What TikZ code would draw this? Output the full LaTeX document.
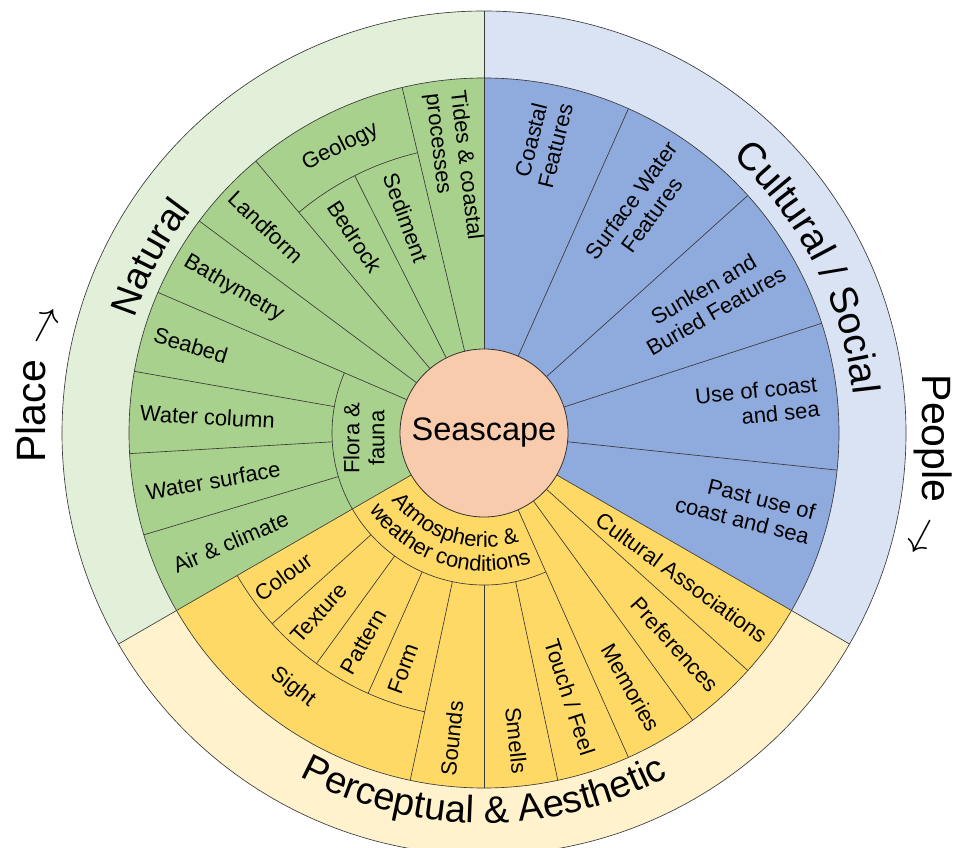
\RequirePackage{fix-cm}
\documentclass[tikz,border=0pt]{standalone}
\usepackage{fontspec}
\setmainfont{Liberation Sans}
\usetikzlibrary{decorations.text}
\definecolor{gD}{HTML}{A9D18E}
\definecolor{gL}{HTML}{E2F0D9}
\definecolor{bD}{HTML}{8FAADC}
\definecolor{bL}{HTML}{DAE3F3}
\definecolor{yD}{HTML}{FFD966}
\definecolor{yL}{HTML}{FFF2CC}
\definecolor{pk}{HTML}{F8CBAD}
\begin{document}
\begin{tikzpicture}[x=1pt,y=1pt,
  sep/.style={draw=black!78, line width=0.65pt},
  lab/.style={font=\fontsize{22}{25}\selectfont, align=center, inner sep=0pt, text=black},
  big/.style={font=\fontsize{41}{45}\selectfont, inner sep=0pt, text=black, anchor=base}]
\useasboundingbox (0,0) rectangle (955,847);
\begin{scope}[shift={(484,414)}]
% outer ring sectors
\fill[gL] (0,0) -- (90:422pt) arc[start angle=90,end angle=210,radius=422pt] -- cycle;
\fill[bL] (0,0) -- (-30:422pt) arc[start angle=-30,end angle=90,radius=422pt] -- cycle;
\fill[yL] (0,0) -- (210:422pt) arc[start angle=210,end angle=330,radius=422pt] -- cycle;
% inner wedges
\fill[gD] (0,0) -- (90:355pt) arc[start angle=90,end angle=210,radius=355pt] -- cycle;
\fill[bD] (0,0) -- (-30:355pt) arc[start angle=-30,end angle=90,radius=355pt] -- cycle;
\fill[yD] (0,0) -- (210:355pt) arc[start angle=210,end angle=330,radius=355pt] -- cycle;
% circles and main boundaries
\draw[sep] (0,0) circle[radius=422pt];
\draw[sep] (0,0) circle[radius=355pt];
\foreach \a in {90,210,330} \draw[sep] (\a:84pt) -- (\a:422pt);
% green
\foreach \a in {103.33,130,143.33,156.67} \draw[sep] (\a:84pt) -- (\a:355pt);
\draw[sep] (116.67:84pt) -- (116.67:288pt);
\foreach \a in {170,183.33,196.67} \draw[sep] (\a:152pt) -- (\a:355pt);
\draw[sep] (103.33:288pt) arc[start angle=103.33,end angle=130,radius=288pt];
\draw[sep] (156.67:152pt) arc[start angle=156.67,end angle=210,radius=152pt];
% blue
\foreach \a in {66,42,18,-6} \draw[sep] (\a:84pt) -- (\a:355pt);
% yellow
\draw[sep] (210:152pt) arc[start angle=210,end angle=294,radius=152pt];
\draw[sep] (210:285pt) arc[start angle=210,end angle=258,radius=285pt];
\foreach \a in {222,234,246} \draw[sep] (\a:152pt) -- (\a:285pt);
\foreach \a in {258,270,282} \draw[sep] (\a:152pt) -- (\a:355pt);
\foreach \a in {294,306,318} \draw[sep] (\a:84pt) -- (\a:355pt);
% centre
\node[circle, fill=pk, draw=black!80, line width=0.8pt, minimum size=168pt, inner sep=0pt,
  font=\fontsize{32.5}{32.5}\selectfont] (seascape) at (0,0) {Seascape};
% green labels
\node[lab, rotate=-83.3, align=left] (tides) at (96.67:268pt) {Tides \& coastal\\processes};
\node[lab, rotate=26.67] (geology) at (116.67:320pt) {Geology};
\node[lab, rotate=-70] (sediment) at (110:229pt) {Sediment};
\node[lab, rotate=-56.67] (bedrock) at (123.33:235pt) {Bedrock};
\node[lab, rotate=-43.33] (landform) at (136.67:300pt) {Landform};
\node[lab, rotate=-30] (bathy) at (150:289pt) {Bathymetry};
\node[lab, rotate=-16.67] (seabed) at (163.33:306pt) {Seabed};
\node[lab, rotate=-3.33] (watercol) at (176.67:277pt) {Water column};
\node[lab, rotate=10] (watersurf) at (190:275pt) {Water surface};
\node[lab, rotate=23.33] (air) at (203.33:276pt) {Air \& climate};
\node[lab, rotate=90] (flora) at (182.5:120pt) {Flora \&\\fauna};
% blue labels
\node[lab, rotate=76] (coastal) at (78.5:296pt) {Coastal\\Features};
\node[lab, rotate=54] (surface) at (55:275pt) {Surface Water\\Features};
\node[lab, rotate=30] (sunken) at (30.5:262pt) {Sunken and\\Buried Features};
\node[lab, rotate=6, align=right] (use) at (6.3:275pt) {Use of coast\\and sea};
\node[lab, rotate=-14, align=right] (pastuse) at (-16:272pt) {Past use of\\coast and sea};
% yellow labels
\node[lab, rotate=-36] (cultassoc) at (323.8:245pt) {Cultural Associations};
\node[lab, rotate=-48] (pref) at (312:285pt) {Preferences};
\node[lab, rotate=-60] (mem) at (300:294pt) {Memories};
\node[lab, rotate=-72] (touch) at (288:278pt) {Touch / Feel};
\node[lab, rotate=-84] (smells) at (276:309pt) {Smells};
\node[lab, rotate=84] (sounds) at (264:307pt) {Sounds};
\node[lab, rotate=-38] (sight) at (233:318pt) {Sight};
\node[lab, rotate=36] (colour) at (215.6:247pt) {Colour};
\node[lab, rotate=48] (texture) at (227.5:244pt) {Texture};
\node[lab, rotate=60] (pattern) at (240:241pt) {Pattern};
\node[lab, rotate=70] (form) at (251:249pt) {Form};
% curved texts
\path[decorate, decoration={text along path, text align=center,
  text={|\fontsize{22}{22}\selectfont|Atmospheric {\&}}}]
  (210:114pt) arc[start angle=210, end angle=294, radius=114pt];
\path[decorate, decoration={text along path, text align=center,
  text={|\fontsize{22}{22}\selectfont|weather conditions}}]
  (210:138pt) arc[start angle=210, end angle=294, radius=138pt];
\path[decorate, decoration={text along path, text align=center,
  text={|\fontsize{38}{38}\selectfont|Natural}}]
  (182.3:368pt) arc[start angle=182.3, end angle=122.3, radius=368pt];
\path[decorate, decoration={text along path, text align=center,
  text={|\fontsize{39}{39}\selectfont|Cultural / Social}}]
  (67:371pt) arc[start angle=67, end angle=-13, radius=371pt];
\path[decorate, decoration={text along path, text align=center,
  text={|\fontsize{38}{38}\selectfont|Perceptual {\&} Aesthetic}}]
  (210:390pt) arc[start angle=210, end angle=330, radius=390pt];
\end{scope}
\node[big, rotate=90] (place) at (45,463) {Place \raisebox{-10pt}{\rotatebox[origin=c]{-28}{$\rightarrow$}}};
\node[big, rotate=-90] (people) at (922,381) {People \raisebox{-10pt}{\rotatebox[origin=c]{-28}{$\rightarrow$}}};
\end{tikzpicture}
\end{document}
